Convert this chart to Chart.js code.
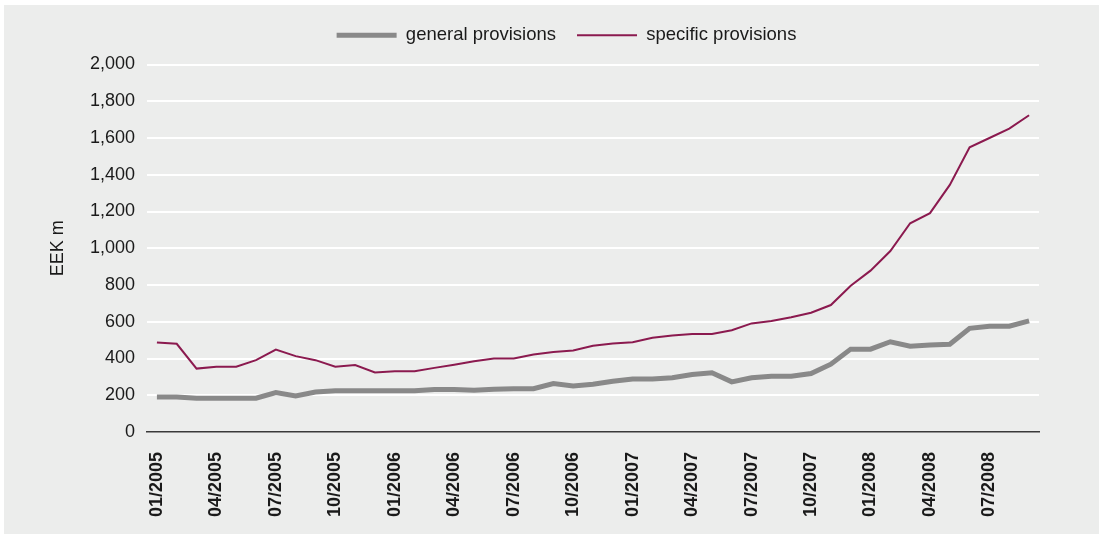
<!DOCTYPE html>
<html>
<head>
<meta charset="utf-8">
<script src="https://cdn.jsdelivr.net/npm/chart.js@4"></script>
<style>
  html, body { margin: 0; padding: 0; background: #fff; }
  #panel { position: absolute; left: 4px; top: 5px; width: 1095px; height: 529px; background: #ecedec; }
</style>
</head>
<body>
<div id="panel"><canvas id="provChart"></canvas></div>
<script>
// monthly, 01/2005 - 09/2008
var months = [
  "01/2005","02/2005","03/2005","04/2005","05/2005","06/2005","07/2005","08/2005","09/2005","10/2005","11/2005","12/2005",
  "01/2006","02/2006","03/2006","04/2006","05/2006","06/2006","07/2006","08/2006","09/2006","10/2006","11/2006","12/2006",
  "01/2007","02/2007","03/2007","04/2007","05/2007","06/2007","07/2007","08/2007","09/2007","10/2007","11/2007","12/2007",
  "01/2008","02/2008","03/2008","04/2008","05/2008","06/2008","07/2008","08/2008","09/2008"
];

// EEK m
var generalProv = [191,191,184,184,184,184,215,196,218,224,224,224,224,224,231,231,
  227,233,236,236,264,251,260,276,289,289,295,313,322,273,295,
  304,304,318,369,451,451,491,467,473,478,564,576,576,605];

var specificProv = [487,480,345,355,355,391,449,413,391,355,364,324,331,331,349,366,
  385,400,400,422,436,444,469,482,489,513,525,533,533,554,591,
  604,624,649,691,796,878,985,1136,1191,1345,1549,1600,1651,1724];

var yTicks = [0,200,400,600,800,1000,1200,1400,1600,1800,2000];

Chart.defaults.font.family = "'Liberation Sans', Arial, Helvetica, sans-serif";
Chart.defaults.color = '#1a1a1a';

var provCanvas = document.getElementById("provChart");
var provChart = new Chart(provCanvas, {
  type: 'line',
  data: {
    labels: months,
    datasets: [{
      label: "general provisions",
      data: generalProv,
      borderColor: '#898989',
      backgroundColor: '#898989',
      borderWidth: 5,
      pointRadius: 0,
      tension: 0
    },
    {
      label: "specific provisions",
      data: specificProv,
      borderColor: '#8b1a4f',
      backgroundColor: '#8b1a4f',
      borderWidth: 2,
      pointRadius: 0,
      tension: 0
    }]
  },
  options: {
    responsive: true,
    maintainAspectRatio: false,
    animation: false,
    layout: { padding: { left: 30, top: 0, right: 0, bottom: 0 } },
    plugins: {
      tooltip: { enabled: false },
      legend: {
        position: 'top',
        labels: {
          usePointStyle: true,
          pointStyle: 'line',
          pointStyleWidth: 60,
          padding: 21,
          color: '#1a1a1a',
          font: { size: 18.5 }
        }
      },
      // empty spacer between legend and plot
      title: { display: true, text: '', weight: 500, padding: 0, font: { size: 10, lineHeight: 1 } }
    },
    scales: {
      x: {
        offset: true,
        grid: { display: false, offset: true },
        border: { display: true, color: '#3a3a3a', width: 1.5 },
        ticks: {
          autoSkip: false,
          maxRotation: 90,
          minRotation: 90,
          padding: 12,
          font: { size: 18, weight: 'bold' },
          callback: function(val, i) { return i % 3 === 0 ? months[i] : ''; }
        },
        afterFit: function(s) { s.height = 102; }
      },
      y: {
        min: 0,
        max: 2000,
        afterBuildTicks: function(s) { s.ticks = yTicks.map(function(v) { return { value: v }; }); },
        grid: {
          color: function(ctx) { return ctx.tick && ctx.tick.value === 0 ? 'rgba(0,0,0,0)' : '#ffffff'; },
          lineWidth: 2,
          drawTicks: false
        },
        border: { display: false },
        ticks: {
          padding: 12,
          font: { size: 18 },
          callback: function(v) { return v.toLocaleString('en-US'); }
        },
        title: { display: true, text: 'EEK m', font: { size: 18 }, padding: { top: 13, bottom: 0 } },
        afterFit: function(s) { s.width = 113; }
      },
      yRight: {
        position: 'right',
        grid: { display: false },
        border: { display: false },
        ticks: { display: false },
        afterFit: function(s) { s.width = 60; }
      }
    }
  }
});
</script>
</body>
</html>
